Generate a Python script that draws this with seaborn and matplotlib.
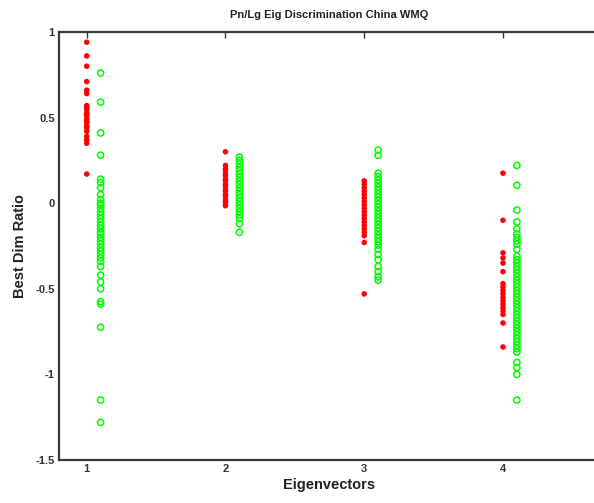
import matplotlib
matplotlib.use("Agg")
import matplotlib.pyplot as plt
import seaborn as sns
import pandas as pd

# eigenvector index on the x axis
eigvecs = [1, 2, 3, 4]

# red filled dots (class A), one list per eigenvector
class_a = [
    [0.94, 0.86, 0.80, 0.71, 0.66, 0.64, 0.57, 0.56, 0.55, 0.53, 0.52, 0.51, 0.49,
     0.48, 0.47, 0.45, 0.44, 0.42, 0.39, 0.37, 0.35, 0.17],
    [0.30, 0.22, 0.20, 0.19, 0.17, 0.16, 0.14, 0.13, 0.11, 0.10, 0.08, 0.07, 0.05,
     0.04, 0.02, 0.01, 0.0, -0.015],
    [0.13, 0.11, 0.09, 0.07, 0.05, 0.03, 0.01, -0.01, -0.03, -0.05, -0.07, -0.09,
     -0.11, -0.13, -0.15, -0.17, -0.19, -0.23, -0.53],
    [0.175, -0.10, -0.29, -0.32, -0.35, -0.40, -0.47, -0.49, -0.51, -0.53, -0.55,
     -0.57, -0.59, -0.61, -0.63, -0.65, -0.70, -0.84],
]

# green open circles (class B)
class_b = [
    [0.76, 0.59, 0.41, 0.28, 0.14, 0.12, 0.09, 0.05, 0.02, 0.0, -0.01, -0.03, -0.05,
     -0.07, -0.09, -0.11, -0.13, -0.15, -0.17, -0.18, -0.20, -0.22, -0.24, -0.26,
     -0.28, -0.30, -0.32, -0.34, -0.37, -0.42, -0.46, -0.50, -0.575, -0.59, -0.725,
     -1.15, -1.28],
    [0.27, 0.25, 0.23, 0.21, 0.19, 0.17, 0.15, 0.13, 0.11, 0.09, 0.07, 0.05, 0.03,
     0.01, -0.01, -0.03, -0.05, -0.07, -0.09, -0.12, -0.17],
    [0.31, 0.28, 0.175, 0.155, 0.135, 0.115, 0.095, 0.075, 0.055, 0.035, 0.015,
     -0.005, -0.025, -0.045, -0.065, -0.085, -0.105, -0.125, -0.145, -0.165, -0.185,
     -0.205, -0.225, -0.245, -0.27, -0.30, -0.33, -0.37, -0.40, -0.43, -0.45],
    [0.22, 0.105, -0.04, -0.11, -0.15, -0.18, -0.20, -0.22, -0.24, -0.27, -0.31,
     -0.33, -0.35, -0.37, -0.39, -0.41, -0.43, -0.45, -0.47, -0.49, -0.51, -0.53,
     -0.55, -0.57, -0.59, -0.61, -0.63, -0.65, -0.67, -0.69, -0.71, -0.73, -0.75,
     -0.77, -0.79, -0.81, -0.83, -0.85, -0.87, -0.93, -0.96, -1.0, -1.15],
]

yticks = [-1.5, -1, -0.5, 0, 0.5, 1]
ytick_labels = ["-1.5", "-1", "-0.5", "0", "0.5", "1"]

rows_a = [(k, v) for k, vals in zip(eigvecs, class_a) for v in vals]
rows_b = [(k + 0.1, v) for k, vals in zip(eigvecs, class_b) for v in vals]
df_a = pd.DataFrame(rows_a, columns=["x", "y"])
df_b = pd.DataFrame(rows_b, columns=["x", "y"])

sns.set_style("white")
plt.rcParams["font.family"] = ["Liberation Sans", "DejaVu Sans"]

fig = plt.figure(figsize=(5.94, 5.03), dpi=100)
ax = fig.add_axes([0.0993, 0.0855, 0.911, 0.851])

sns.scatterplot(data=df_a, x="x", y="y", ax=ax, s=16, color="#ff0000",
                edgecolor="none", linewidth=0)
sns.scatterplot(data=df_b, x="x", y="y", ax=ax, s=20, facecolor="none",
                edgecolor="#00ff00", linewidth=1.1)

ax.set_xlim(0.8, 4.7)
ax.set_ylim(-1.5, 1)
ax.set_xticks(eigvecs)
ax.set_xticklabels([str(k) for k in eigvecs], fontsize=8, fontweight="bold",
                   color="#333333")
ax.set_yticks(yticks)
ax.set_yticklabels(ytick_labels, fontsize=8, fontweight="bold", color="#333333")
ax.tick_params(direction="in", length=4, width=1, colors="#333333",
               top=True, right=True, pad=3)

for sp in ax.spines.values():
    sp.set_color("#3a3a3a")
    sp.set_linewidth(1.6)

ax.set_title("Pn/Lg Eig Discrimination China WMQ", fontsize=8, fontweight="bold",
             color="#222222", pad=10)
ax.set_xlabel("Eigenvectors", fontsize=10.5, fontweight="bold", color="#222222",
              labelpad=3)
ax.set_ylabel("Best Dim Ratio", fontsize=10.5, fontweight="bold", color="#222222",
              labelpad=6)

fig.savefig("out.png", dpi=100)
